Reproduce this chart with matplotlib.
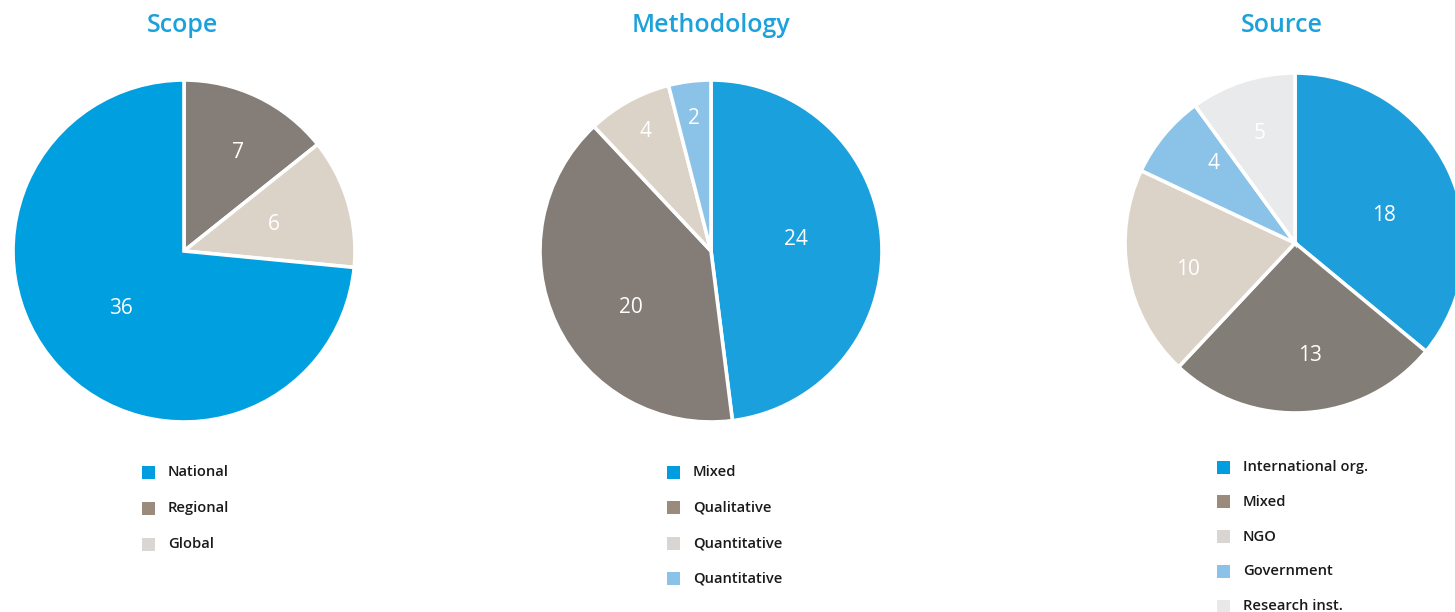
import matplotlib.pyplot as plt
from matplotlib.patches import Rectangle
import numpy as np

# data
scope_labels = ["National", "Regional", "Global"]
scope_values = [36, 7, 6]
method_labels = ["Mixed", "Qualitative", "Quantitative", "Quantitative"]
method_values = [24, 20, 4, 2]
source_labels = ["International org.", "Mixed", "NGO", "Government", "Research inst."]
source_values = [18, 13, 10, 4, 5]

W, H = 1455, 612
plt.rcParams['font.family'] = ['Open Sans', 'DejaVu Sans']

TITLE_BLUE = "#1ba1dc"

pies = [
    {
        "title": "Scope", "title_x": 183,
        "labels": scope_labels, "values": scope_values,
        "pie_colors": ["#009fdf", "#847d78", "#dcd3c8"],
        "legend_colors": ["#009ee0", "#9a8b7c", "#d9d6d4"],
        # drawn clockwise from 12 o'clock in this order
        "draw_order": [1, 2, 0],
        "label_pos": [(0.5, 0), (0.66, -3), (0.55, 0)],
        "center": (184, 251), "R": 171,
        "leg_x": 142, "leg_y0": 472, "leg_dy": 36,
    },
    {
        "title": "Methodology", "title_x": 711,
        "labels": method_labels, "values": method_values,
        "pie_colors": ["#1aa0dc", "#837c77", "#dcd3c8", "#8bc2e8"],
        "legend_colors": ["#009ee0", "#9a8b7c", "#d8d5d3", "#8bc2e8"],
        "draw_order": [0, 1, 2, 3],
        "label_pos": [(0.5, 4), (0.57, 10), (0.8, 0), (0.78, 0)],
        "center": (711, 251), "R": 171,
        "leg_x": 667, "leg_y0": 472, "leg_dy": 35.5,
    },
    {
        "title": "Source", "title_x": 1282,
        "labels": source_labels, "values": source_values,
        "pie_colors": ["#1e9fdb", "#837d78", "#dcd3c8", "#8bc2e8", "#e9eaec"],
        "legend_colors": ["#009ee0", "#9a8b7c", "#d8d5d3", "#8bc2e8", "#e8e8e8"],
        "draw_order": [0, 1, 2, 3, 4],
        "label_pos": [(0.55, -8), (0.67, 4), (0.65, 3), (0.67, -5), (0.68, 0)],
        "center": (1295, 243), "R": 170,
        "leg_x": 1217, "leg_y0": 467, "leg_dy": 34.8,
    },
]

fig = plt.figure(figsize=(W / 100, H / 100), dpi=100)

for p in pies:
    cx, cy = p["center"]
    R = p["R"]
    ax = fig.add_axes([(cx - R) / W, 1 - (cy + R) / H, 2 * R / W, 2 * R / H])
    order = p["draw_order"]
    vals = [p["values"][i] for i in order]
    cols = [p["pie_colors"][i] for i in order]
    wedges, _ = ax.pie(vals, colors=cols, startangle=90, counterclock=False,
                       radius=1, wedgeprops=dict(edgecolor="white", linewidth=2.6))
    for w in wedges:
        w.set_clip_on(False)
    ax.set_xlim(-1, 1)
    ax.set_ylim(-1, 1)
    ax.set_aspect("equal")
    ax.axis("off")
    for k, w in enumerate(wedges):
        idx = order[k]
        r, dang = p["label_pos"][idx]
        mid = np.deg2rad((w.theta1 + w.theta2) / 2 + dang)
        ax.text(r * np.cos(mid), r * np.sin(mid), str(p["values"][idx]),
                color="white", fontsize=15, ha="center", va="center")

    fig.text(p["title_x"] / W, 1 - 26 / H, p["title"], color=TITLE_BLUE,
             fontsize=18, fontweight="semibold", ha="center", va="center")

    for i, (lab, col) in enumerate(zip(p["labels"], p["legend_colors"])):
        y = p["leg_y0"] + i * p["leg_dy"]
        fig.add_artist(Rectangle(((p["leg_x"]) / W, 1 - (y + 6.5) / H), 13 / W, 13 / H,
                                 transform=fig.transFigure, color=col, lw=0))
        fig.text((p["leg_x"] + 26) / W, 1 - y / H, lab, fontsize=10.6,
                 fontweight="semibold", color="#1a1a1a", ha="left", va="center")

fig.savefig("out.png", dpi=100)
